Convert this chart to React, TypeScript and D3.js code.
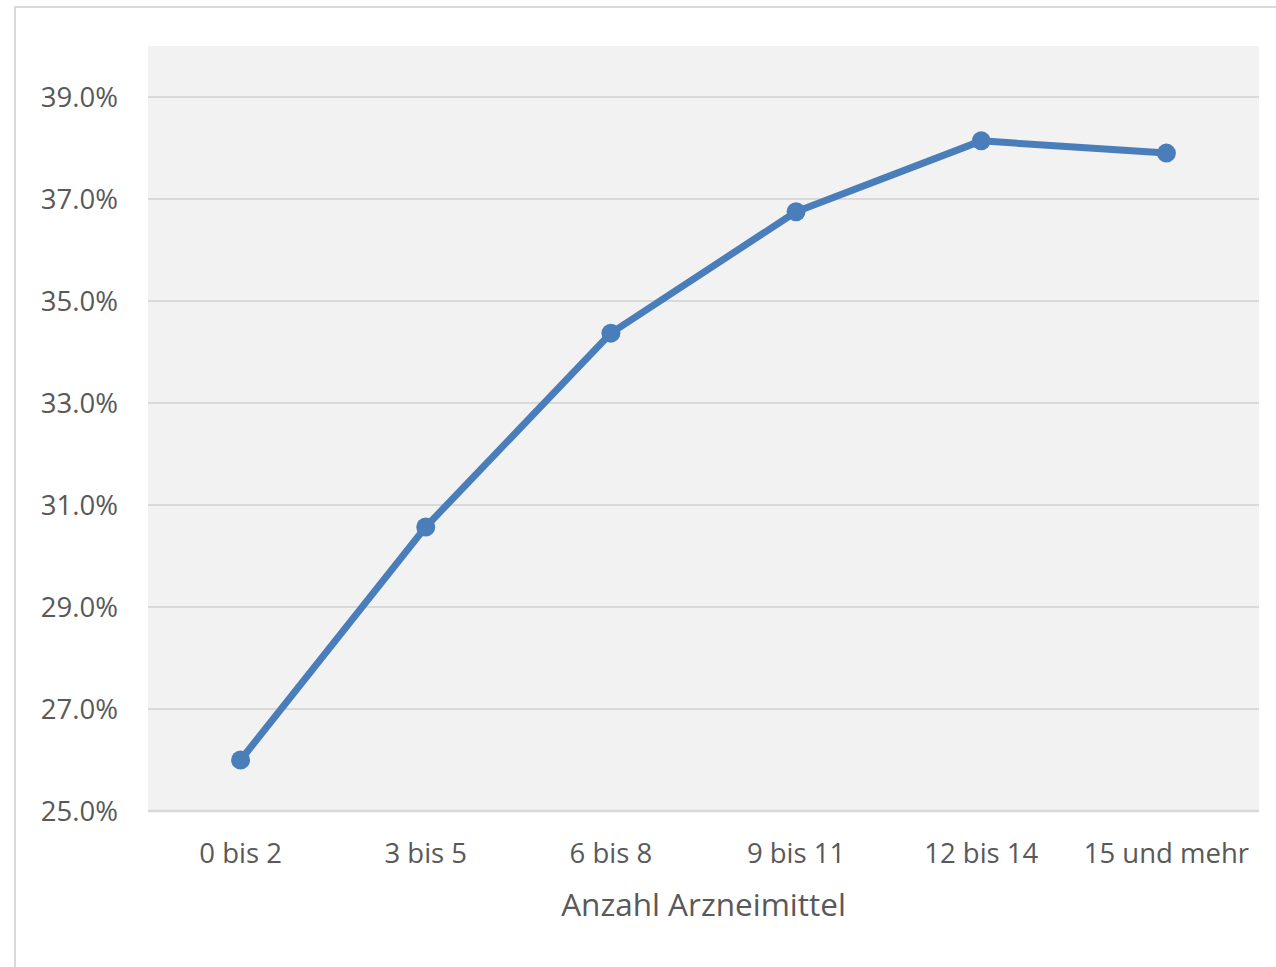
import React from "react";
import * as d3 from "d3";

const categories = ["0 bis 2", "3 bis 5", "6 bis 8", "9 bis 11", "12 bis 14", "15 und mehr"];
const values = [26.0, 30.57, 34.37, 36.75, 38.14, 37.9];
const yTicks = [25, 27, 29, 31, 33, 35, 37, 39];
const xTitle = "Anzahl Arzneimittel";

export default function App() {
  const W = 1276, H = 967;
  const left = 148, right = 1259, top = 46, bottom = 811;
  const x = d3.scaleBand<string>().domain(categories).range([left, right]);
  const y = d3.scaleLinear().domain([25, 40]).range([bottom, top]);
  const line = d3.line<number>()
    .x((_, i) => (x(categories[i]) as number) + x.bandwidth() / 2)
    .y((d) => y(d));
  const font = "'Open Sans', sans-serif";
  return (
    <svg width={W} height={H} style={{ position: "absolute", left: 0, top: 0 }}>
      <rect x={0} y={0} width={W} height={H} fill="#fff" />
      <rect x={15} y={7} width={W + 10} height={H + 10} fill="none" stroke="#d9d9d9" strokeWidth={2} />
      <rect x={left} y={top} width={right - left} height={bottom - top} fill="#f2f2f2" />
      {yTicks.map((t) => (
        <g key={t}>
          <line x1={left} x2={right} y1={y(t)} y2={y(t)} stroke="#d9d9d9" strokeWidth={t === 25 ? 2.5 : 2} />
          <text x={118} y={y(t)} dy="0.35em" textAnchor="end" fontFamily={font} fontSize={27.5} fill="#595959">
            {t.toFixed(1)}%
          </text>
        </g>
      ))}
      {categories.map((c) => (
        <text key={c} x={(x(c) as number) + x.bandwidth() / 2} y={853} dy="0.35em" textAnchor="middle"
          fontFamily={font} fontSize={27.5} fill="#595959">{c}</text>
      ))}
      <text x={(left + right) / 2} y={905} dy="0.35em" textAnchor="middle" fontFamily={font} fontSize={31.5} fill="#595959">
        {xTitle}
      </text>
      <path d={line(values) || ""} fill="none" stroke="#4a7ebb" strokeWidth={7} strokeLinejoin="round" strokeLinecap="round" />
      {values.map((v, i) => (
        <circle key={i} cx={(x(categories[i]) as number) + x.bandwidth() / 2} cy={y(v)} r={9.5} fill="#4a7ebb" />
      ))}
    </svg>
  );
}
